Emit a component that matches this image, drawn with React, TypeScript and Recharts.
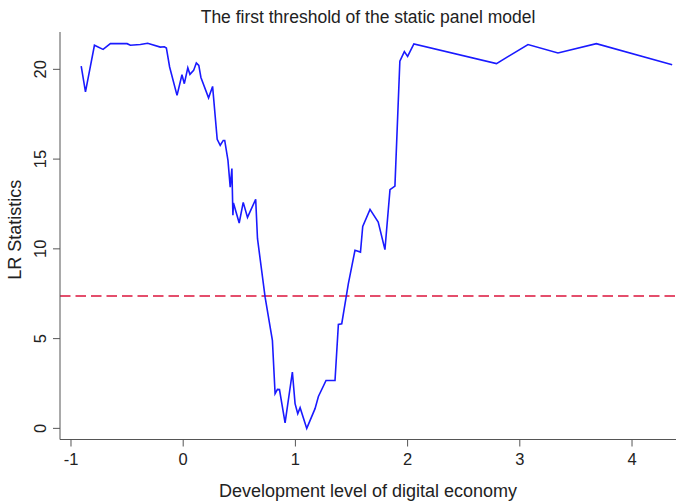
import { CartesianGrid, Line, LineChart, ReferenceLine, XAxis, YAxis } from "recharts";

// threshold candidates (development level) and LR statistic at each
const gammaValues = [
  -0.909, -0.871, -0.791, -0.714, -0.649, -0.5, -0.471, -0.382, -0.317, -0.204,
  -0.168, -0.15, -0.121, -0.055, -0.011, 0.01, 0.041, 0.06, 0.093, 0.117,
  0.139, 0.158, 0.226, 0.262, 0.303, 0.33, 0.357, 0.37, 0.399, 0.419,
  0.434, 0.443, 0.448, 0.499, 0.535, 0.573, 0.646, 0.662, 0.73, 0.795,
  0.819, 0.84, 0.858, 0.908, 0.973, 0.997, 1.021, 1.042, 1.101, 1.175,
  1.205, 1.273, 1.353, 1.383, 1.413, 1.472, 1.531, 1.58, 1.6, 1.665,
  1.738, 1.798, 1.843, 1.887, 1.931, 1.971, 2.0, 2.056, 2.792, 3.073,
  3.34, 3.682, 4.358,
];
const lrValues = [
  20.18, 18.74, 21.34, 21.11, 21.43, 21.43, 21.34, 21.38, 21.45, 21.24,
  21.26, 21.19, 20.13, 18.55, 19.7, 19.2, 20.09, 19.72, 19.94, 20.36,
  20.22, 19.55, 18.41, 19.05, 16.1, 15.77, 16.04, 16.04, 14.93, 13.44,
  14.47, 11.87, 12.55, 11.44, 12.59, 11.75, 12.76, 10.58, 7.31, 4.9,
  1.93, 2.17, 2.16, 0.3, 3.14, 1.38, 0.82, 1.15, 0.0, 1.1,
  1.78, 2.67, 2.67, 5.79, 5.83, 8.06, 9.92, 9.82, 11.25, 12.2,
  11.49, 9.96, 13.3, 13.5, 20.46, 20.99, 20.72, 21.42, 20.32, 21.38,
  20.91, 21.43, 20.26,
];
const criticalValue = 7.37;
const xTicks = [-1, 0, 1, 2, 3, 4];
const yTicks = [0, 5, 10, 15, 20];

const data = gammaValues.map((g, i) => ({ gamma: g, lr: lrValues[i] }));

const FONT = '"Liberation Sans", Arial, sans-serif';

function YTick({ y, payload }: any) {
  const x = 46.5;
  return (
    <text
      x={x}
      y={y}
      transform={`rotate(-90 ${x} ${y})`}
      textAnchor="middle"
      fontSize={16.5}
      fontFamily={FONT}
      fill="#222"
    >
      {payload.value}
    </text>
  );
}

function XTitle({ viewBox }: any) {
  const cx = viewBox.x + viewBox.width / 2;
  return (
    <text x={cx} y={496.5} textAnchor="middle" fontSize={18} fontFamily={FONT} fill="#222">
      Development level of digital economy
    </text>
  );
}

function YTitle({ viewBox }: any) {
  const cy = viewBox.y + viewBox.height / 2 - 6;
  const x = 20.5;
  return (
    <text
      x={x}
      y={cy}
      transform={`rotate(-90 ${x} ${cy})`}
      textAnchor="middle"
      fontSize={18}
      fontFamily={FONT}
      fill="#222"
    >
      LR Statistics
    </text>
  );
}

export default function App() {
  return (
    <div style={{ position: "absolute", left: 0, top: 0, width: 676, height: 502, background: "#fff" }}>
      <div
        style={{
          position: "absolute",
          left: 60,
          right: 0,
          top: 7,
          textAlign: "center",
          fontFamily: FONT,
          fontSize: 17.5,
          color: "#222",
          lineHeight: "20px",
        }}
      >
        The first threshold of the static panel model
      </div>
      <LineChart width={676} height={502} data={data} margin={{ top: 32, right: 0, bottom: 0, left: 0 }}>
        <CartesianGrid stroke="none" />
        <XAxis
          dataKey="gamma"
          type="number"
          domain={[-1.098, 4.392]}
          ticks={xTicks}
          allowDataOverflow
          height={62.5}
          tickSize={7}
          tickMargin={7}
          stroke="#555"
          tick={{ fill: "#222", fontSize: 16.5, fontFamily: FONT }}
          label={<XTitle />}
        />
        <YAxis
          type="number"
          domain={[-0.62, 22.08]}
          ticks={yTicks}
          allowDataOverflow
          width={60}
          tickSize={7}
          stroke="#555"
          tick={<YTick />}
          label={<YTitle />}
        />
        <ReferenceLine y={criticalValue} stroke="#DC143C" strokeWidth={1.6} strokeDasharray="10.5 5" />
        <Line
          dataKey="lr"
          type="linear"
          stroke="#1a1aff"
          strokeWidth={1.6}
          dot={false}
          isAnimationActive={false}
        />
      </LineChart>
    </div>
  );
}
